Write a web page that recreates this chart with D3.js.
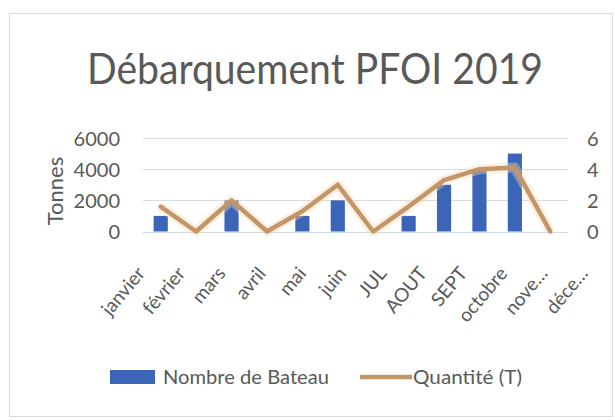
<!DOCTYPE html>
<html>
<head>
<meta charset="utf-8">
<script src="https://cdn.jsdelivr.net/npm/d3@7"></script>
<style>
  body { margin: 0; background: #ffffff; }
  text { font-family: Lato, "Open Sans", sans-serif; fill: #595959; }
</style>
</head>
<body>
<script>
// Data
const months = ['janvier', 'février', 'mars', 'avril', 'mai', 'juin', 'JUL', 'AOUT', 'SEPT', 'octobre', 'nove…', 'déce…'];
const bateaux = [1, 0, 2, 0, 1, 2, 0, 1, 3, 4, 5, 0];                // Nombre de Bateau (right axis)
const quantite = [1600, 0, 2000, 0, 1300, 3000, 0, 1600, 3300, 4000, 4100, 0]; // Quantité (T), tonnes (left axis)
const leftTicks = [0, 2000, 4000, 6000];
const rightTicks = [0, 2, 4, 6];

let width = 615,
    height = 420;

let margin = {
    top: 138,
    bottom: 188,
    left: 143,
    right: 47
};

// Create the SVG container
let svg = d3.select('body')
            .append('svg')
            .attr('width', width)
            .attr('height', height);

// chart frame
svg.append('rect')
   .attr('x', 9.5)
   .attr('y', 13.5)
   .attr('width', 603)
   .attr('height', 403)
   .attr('fill', '#ffffff')
   .attr('stroke', '#d9d9d9')
   .attr('stroke-width', 1);

// Scales
const xScale = d3.scaleBand()
                 .domain(months)
                 .range([margin.left, width - margin.right])
                 .paddingInner(0.6)
                 .paddingOuter(0.3);

// labels sit on their own, a bit wider spread than the bars
const labelScale = d3.scalePoint()
                     .domain(months)
                     .range([146, 589]);

const yLeft = d3.scaleLinear()
                .domain([0, 6000])
                .range([height - margin.bottom - 0.5, margin.top]);

const yRight = d3.scaleLinear()
                 .domain([0, 6])
                 .range([height - margin.bottom - 0.5, margin.top]);

const cx = d => xScale(d) + xScale.bandwidth() / 2;

// Gridlines
svg.append('g')
   .selectAll('line')
   .data(leftTicks)
   .enter()
   .append('line')
   .attr('x1', margin.left)
   .attr('x2', width - margin.right)
   .attr('y1', d => Math.round(yLeft(d)) + 0.5)
   .attr('y2', d => Math.round(yLeft(d)) + 0.5)
   .attr('stroke', d => d === 0 ? '#d0d8e6' : '#dcdcdc')
   .attr('stroke-width', 1.2);

// Left axis
let leftAxis = svg.append('g')
                  .attr('transform', `translate(${margin.left - 23}, 0)`)
                  .call(d3.axisLeft(yLeft).tickValues(leftTicks).tickSize(0).tickPadding(0).tickFormat(d3.format('d')));
leftAxis.select('.domain').remove();
leftAxis.selectAll('text')
        .style('font-size', '20px')
        .attr('fill', '#595959')
        .attr('dy', '0.36em');

// Right axis
let rightAxis = svg.append('g')
                   .attr('transform', `translate(${width - margin.right + 19}, 0)`)
                   .call(d3.axisRight(yRight).tickValues(rightTicks).tickSize(0).tickPadding(0).tickFormat(d3.format('d')));
rightAxis.select('.domain').remove();
rightAxis.selectAll('text')
         .style('font-size', '20px')
         .attr('fill', '#595959')
         .attr('dy', '0.36em');

// Bars: Nombre de Bateau
svg.append('g')
   .selectAll('rect')
   .data(bateaux)
   .enter()
   .append('rect')
   .attr('x', (d, i) => xScale(months[i]))
   .attr('y', d => yRight(d))
   .attr('width', xScale.bandwidth())
   .attr('height', d => yRight(0) - yRight(d))
   .attr('fill', '#3d65b7');

// Line: Quantité (T)
const line = d3.line()
               .x((d, i) => cx(months[i]))
               .y(d => yLeft(d));

svg.append('path')
   .datum(quantite)
   .attr('d', line)
   .attr('fill', 'none')
   .attr('stroke', '#f6d9b8')
   .attr('stroke-opacity', 0.4)
   .attr('stroke-width', 10)
   .attr('stroke-linejoin', 'round');

svg.append('path')
   .datum(quantite)
   .attr('d', line)
   .attr('fill', 'none')
   .attr('stroke', '#c39567')
   .attr('stroke-width', 4.5)
   .attr('stroke-linejoin', 'round')
   .attr('stroke-linecap', 'round');

// Month labels
svg.append('g')
   .selectAll('text')
   .data(months)
   .enter()
   .append('text')
   .attr('transform', d => `translate(${labelScale(d)}, 274) rotate(-50)`)
   .attr('text-anchor', 'end')
   .style('font-size', '19px')
   .text(d => d);

// Title
svg.append('text')
   .attr('x', 315)
   .attr('y', 84)
   .attr('text-anchor', 'middle')
   .attr('textLength', 456)
   .attr('lengthAdjust', 'spacingAndGlyphs')
   .style('font-size', '42px')
   .text('Débarquement PFOI 2019');

// Y axis title
svg.append('text')
   .attr('transform', 'translate(63, 191) rotate(-90)')
   .attr('text-anchor', 'middle')
   .style('font-size', '22px')
   .text('Tonnes');

// Legend
svg.append('rect')
   .attr('x', 110)
   .attr('y', 370)
   .attr('width', 45)
   .attr('height', 14)
   .attr('fill', '#3d65b7');

svg.append('text')
   .attr('x', 163)
   .attr('y', 384)
   .attr('textLength', 166)
   .attr('lengthAdjust', 'spacingAndGlyphs')
   .style('font-size', '19px')
   .text('Nombre de Bateau');

svg.append('line')
   .attr('x1', 360)
   .attr('x2', 412)
   .attr('y1', 377)
   .attr('y2', 377)
   .attr('stroke', '#c39567')
   .attr('stroke-width', 4.5);

svg.append('text')
   .attr('x', 413)
   .attr('y', 384)
   .attr('textLength', 109)
   .attr('lengthAdjust', 'spacingAndGlyphs')
   .style('font-size', '19px')
   .text('Quantité (T)');
</script>
</body>
</html>
